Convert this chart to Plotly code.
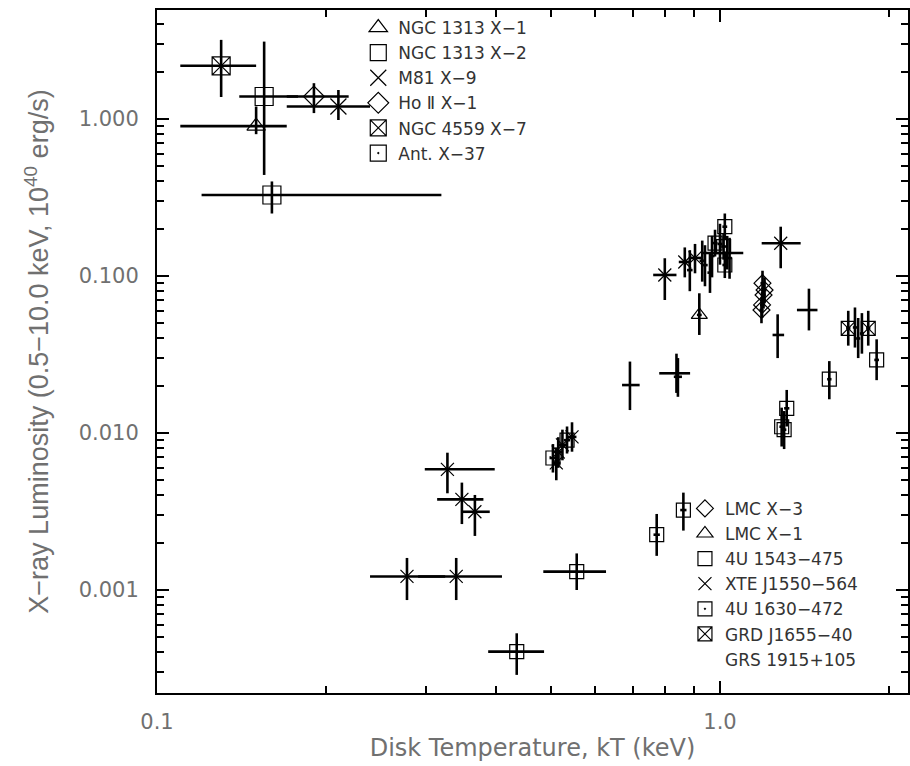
import plotly.graph_objects as go

# ---------------- data (kT in keV, L in 1e40 erg/s) ----------------
# ULX sources
ngc1313x1_x = [0.150]; ngc1313x1_y = [0.90]
ngc1313x1_xlo = [0.110]; ngc1313x1_xhi = [0.170]
ngc1313x1_ylo = [0.80]; ngc1313x1_yhi = [1.20]

ngc1313x2_x = [0.155]; ngc1313x2_y = [1.39]
ngc1313x2_xlo = [0.140]; ngc1313x2_xhi = [0.178]
ngc1313x2_ylo = [0.44]; ngc1313x2_yhi = [3.11]

m81x9_x = [0.210]; m81x9_y = [1.20]
m81x9_xlo = [0.170]; m81x9_xhi = [0.239]
m81x9_ylo = [0.985]; m81x9_yhi = [1.53]

ho2x1_x = [0.190]; ho2x1_y = [1.39]
ho2x1_xlo = [0.170]; ho2x1_xhi = [0.219]
ho2x1_ylo = [1.09]; ho2x1_yhi = [1.69]

ngc4559x7_x = [0.130]; ngc4559x7_y = [2.18]
ngc4559x7_xlo = [0.110]; ngc4559x7_xhi = [0.150]
ngc4559x7_ylo = [1.38]; ngc4559x7_yhi = [3.19]

antx37_x = [0.160]; antx37_y = [0.328]
antx37_xlo = [0.120]; antx37_xhi = [0.320]
antx37_ylo = [0.25]; antx37_yhi = [0.40]

# Galactic black-hole binaries
lmcx3_x = [1.190, 1.200, 1.195, 1.188, 1.185]
lmcx3_y = [0.090, 0.0814, 0.0757, 0.0654, 0.0607]
lmcx3_xlo = [1.180, 1.190, 1.185, 1.178, 1.175]
lmcx3_xhi = [1.200, 1.210, 1.205, 1.198, 1.195]
lmcx3_ylo = [0.074, 0.067, 0.062, 0.054, 0.050]
lmcx3_yhi = [0.108, 0.098, 0.091, 0.079, 0.073]

lmcx1_x = [0.919]; lmcx1_y = [0.0565]
lmcx1_xlo = [0.910]; lmcx1_xhi = [0.928]
lmcx1_ylo = [0.0421]; lmcx1_yhi = [0.0776]

u1543_x = [1.020, 1.015, 1.020, 0.980, 0.505, 0.535]
u1543_y = [0.206, 0.154, 0.1175, 0.162, 0.00693, 0.0090]
u1543_xlo = [1.010, 1.005, 1.010, 0.970, 0.498, 0.528]
u1543_xhi = [1.030, 1.025, 1.030, 0.990, 0.512, 0.542]
u1543_ylo = [0.170, 0.127, 0.097, 0.133, 0.0056, 0.0074]
u1543_yhi = [0.250, 0.187, 0.143, 0.197, 0.0085, 0.0110]

xte1550_x = [0.328, 0.348, 0.367, 0.278, 0.340, 0.798, 1.282, 0.866, 0.903,
             0.525, 0.516, 0.546, 0.512]
xte1550_y = [0.00587, 0.00378, 0.00315, 0.00122, 0.00122, 0.1015, 0.1616,
             0.1228, 0.1303, 0.0084, 0.00757, 0.00944, 0.00645]
xte1550_xlo = [0.299, 0.3145, 0.3477, 0.239, 0.291, 0.761, 1.186, 0.845, 0.880,
               0.515, 0.507, 0.536, 0.503]
xte1550_xhi = [0.398, 0.380, 0.390, 0.325, 0.410, 0.837, 1.391, 0.888, 0.926,
               0.535, 0.525, 0.556, 0.521]
xte1550_ylo = [0.00413, 0.00263, 0.00221, 0.000863, 0.000863, 0.0703, 0.112,
               0.098, 0.104, 0.0067, 0.0060, 0.0076, 0.0050]
xte1550_yhi = [0.00749, 0.00483, 0.00403, 0.0016, 0.0016, 0.1297, 0.206,
               0.152, 0.160, 0.0105, 0.0094, 0.0117, 0.0081]

u1630_x = [1.564, 1.898, 1.314, 1.287, 1.300, 0.772, 0.861, 0.5566, 0.4355]
u1630_y = [0.0220, 0.0292, 0.01436, 0.01096, 0.0105, 0.00225, 0.00323,
           0.00131, 0.000405]
u1630_xlo = [1.550, 1.880, 1.300, 1.275, 1.288, 0.762, 0.850, 0.4855, 0.3875]
u1630_xhi = [1.578, 1.916, 1.328, 1.299, 1.312, 0.782, 0.872, 0.6275, 0.4870]
u1630_ylo = [0.0164, 0.0217, 0.0110, 0.0082, 0.0079, 0.00165, 0.00239,
             0.0010, 0.000288]
u1630_yhi = [0.0287, 0.0395, 0.0188, 0.0145, 0.0138, 0.00305, 0.00417,
             0.00171, 0.00053]

gro1655_x = [1.690, 1.834]
gro1655_y = [0.0464, 0.0464]
gro1655_xlo = [1.675, 1.818]
gro1655_xhi = [1.705, 1.850]
gro1655_ylo = [0.0360, 0.0360]
gro1655_yhi = [0.0600, 0.0600]

grs1915_x = [0.692, 0.837, 0.842, 1.266, 1.439, 1.737, 1.787, 1.760,
             0.884, 0.9405, 0.968, 0.930, 1.030, 1.000, 1.040, 0.960]
grs1915_y = [0.0202, 0.0240, 0.0228, 0.0421, 0.0607, 0.0470, 0.0430, 0.0400,
             0.109, 0.1173, 0.134, 0.125, 0.140, 0.160, 0.130, 0.105]
grs1915_xlo = [0.670, 0.780, 0.828, 1.240, 1.370, 1.722, 1.772, 1.745,
               0.874, 0.930, 0.958, 0.920, 0.930, 0.990, 1.030, 0.950]
grs1915_xhi = [0.720, 0.885, 0.856, 1.300, 1.490, 1.752, 1.802, 1.775,
               0.894, 0.951, 0.978, 0.940, 1.100, 1.010, 1.050, 0.970]
grs1915_ylo = [0.0140, 0.0180, 0.0170, 0.0300, 0.0450, 0.0350, 0.0320, 0.0300,
               0.080, 0.086, 0.098, 0.092, 0.110, 0.118, 0.096, 0.078]
grs1915_yhi = [0.0285, 0.0320, 0.0300, 0.0570, 0.0830, 0.0630, 0.0580, 0.0540,
               0.146, 0.157, 0.180, 0.168, 0.180, 0.215, 0.175, 0.141]

x_tickvals = [0.1, 1.0]
x_ticktext = ["0.1", "1.0"]
x_minor = [0.2, 0.3, 0.4, 0.5, 0.6, 0.7, 0.8, 0.9, 2.0]
y_tickvals = [0.001, 0.01, 0.1, 1.0]
y_ticktext = ["0.001", "0.010", "0.100", "1.000"]
y_minor = [m * d for d in (0.0001, 0.001, 0.01, 0.1, 1.0) for m in range(2, 10)]

# ---------------- figure ----------------
fig = go.Figure()

def add(name, x, y, xlo, xhi, ylo, yhi, symbol, size, legend, show_marker=True):
    ex_p = [h - v for h, v in zip(xhi, x)]
    ex_m = [v - l for l, v in zip(xlo, x)]
    ey_p = [h - v for h, v in zip(yhi, y)]
    ey_m = [v - l for l, v in zip(ylo, y)]
    col = "black" if show_marker else "rgba(0,0,0,0)"
    fig.add_trace(go.Scatter(
        x=x, y=y, mode="markers", name=name, legend=legend,
        marker=dict(symbol=symbol, size=size, color=col,
                    line=dict(color=col, width=1.2)),
        error_x=dict(type="data", symmetric=False, array=ex_p, arrayminus=ex_m,
                     color="black", thickness=2.6, width=0),
        error_y=dict(type="data", symmetric=False, array=ey_p, arrayminus=ey_m,
                     color="black", thickness=2.6, width=0),
    ))

M = "\u2212"
add(f"NGC 1313 X{M}1", ngc1313x1_x, ngc1313x1_y, ngc1313x1_xlo, ngc1313x1_xhi,
    ngc1313x1_ylo, ngc1313x1_yhi, "triangle-up-open", 16, "legend")
add(f"NGC 1313 X{M}2", ngc1313x2_x, ngc1313x2_y, ngc1313x2_xlo, ngc1313x2_xhi,
    ngc1313x2_ylo, ngc1313x2_yhi, "square-open", 18, "legend")
add(f"M81 X{M}9", m81x9_x, m81x9_y, m81x9_xlo, m81x9_xhi,
    m81x9_ylo, m81x9_yhi, "x-thin-open", 16, "legend")
add(f"Ho \u2161 X{M}1", ho2x1_x, ho2x1_y, ho2x1_xlo, ho2x1_xhi,
    ho2x1_ylo, ho2x1_yhi, "diamond-open", 16, "legend")
add(f"NGC 4559 X{M}7", ngc4559x7_x, ngc4559x7_y, ngc4559x7_xlo, ngc4559x7_xhi,
    ngc4559x7_ylo, ngc4559x7_yhi, "square-x-open", 18, "legend")
add(f"Ant. X{M}37", antx37_x, antx37_y, antx37_xlo, antx37_xhi,
    antx37_ylo, antx37_yhi, "square-open-dot", 18, "legend")

add(f"LMC X{M}3", lmcx3_x, lmcx3_y, lmcx3_xlo, lmcx3_xhi,
    lmcx3_ylo, lmcx3_yhi, "diamond-open", 13, "legend2")
add(f"LMC X{M}1", lmcx1_x, lmcx1_y, lmcx1_xlo, lmcx1_xhi,
    lmcx1_ylo, lmcx1_yhi, "triangle-up-open", 14, "legend2")
add(f"4U 1543{M}475", u1543_x, u1543_y, u1543_xlo, u1543_xhi,
    u1543_ylo, u1543_yhi, "square-open", 14, "legend2")
add(f"XTE J1550{M}564", xte1550_x, xte1550_y, xte1550_xlo, xte1550_xhi,
    xte1550_ylo, xte1550_yhi, "x-thin-open", 13, "legend2")
add(f"4U 1630{M}472", u1630_x, u1630_y, u1630_xlo, u1630_xhi,
    u1630_ylo, u1630_yhi, "square-open-dot", 14, "legend2")
add(f"GRD J1655{M}40", gro1655_x, gro1655_y, gro1655_xlo, gro1655_xhi,
    gro1655_ylo, gro1655_yhi, "square-x-open", 14, "legend2")
add("GRS 1915+105", grs1915_x, grs1915_y, grs1915_xlo, grs1915_xhi,
    grs1915_ylo, grs1915_yhi, "square-open", 10, "legend2", show_marker=False)

axis_common = dict(
    type="log", showline=True, linecolor="black", linewidth=2, mirror="allticks",
    ticks="inside", ticklen=12, tickwidth=1.5, tickcolor="black",
    showgrid=False, zeroline=False, automargin=False,
    tickfont=dict(family="DejaVu Sans", size=21, color="#707070"),
)

fig.update_layout(
    width=910, height=766,
    margin=dict(l=157, r=2, t=10, b=73),
    paper_bgcolor="white", plot_bgcolor="white",
    font=dict(family="DejaVu Sans", color="#444444"),
    xaxis=dict(
        **axis_common,
        range=[-1, 0.334],
        tickvals=x_tickvals, ticktext=x_ticktext,
        ticklabelstandoff=9,
        minor=dict(tickvals=x_minor, ticks="inside", ticklen=7,
                   tickwidth=1.5, tickcolor="black", showgrid=False),
        title=dict(text="Disk Temperature, kT (keV)",
                   font=dict(family="DejaVu Sans", size=24, color="#707070"),
                   standoff=6),
    ),
    yaxis=dict(
        **axis_common,
        range=[-3.656, 0.694],
        tickvals=y_tickvals, ticktext=y_ticktext,
        ticklabelstandoff=12,
        minor=dict(tickvals=y_minor, ticks="inside", ticklen=7,
                   tickwidth=1.5, tickcolor="black", showgrid=False),
        title=dict(text=f"X{M}ray Luminosity (0.5{M}10.0 keV, 10<sup>40</sup> erg/s)",
                   font=dict(family="Liberation Sans", size=27, color="#707070"),
                   standoff=22),
    ),
    legend=dict(
        x=0.268, y=1.0, xanchor="left", yanchor="top",
        bgcolor="rgba(0,0,0,0)", borderwidth=0,
        font=dict(family="DejaVu Sans", size=17, color="#333333"),
        itemwidth=30, tracegroupgap=0,
    ),
    legend2=dict(
        x=0.703, y=0.296, xanchor="left", yanchor="top",
        bgcolor="rgba(0,0,0,0)", borderwidth=0,
        font=dict(family="DejaVu Sans", size=17, color="#333333"),
        itemwidth=30, tracegroupgap=0,
    ),
    showlegend=True,
)

fig.write_html("out.html", config={"displayModeBar": False},
               post_script="document.body.style.margin='0px';")
